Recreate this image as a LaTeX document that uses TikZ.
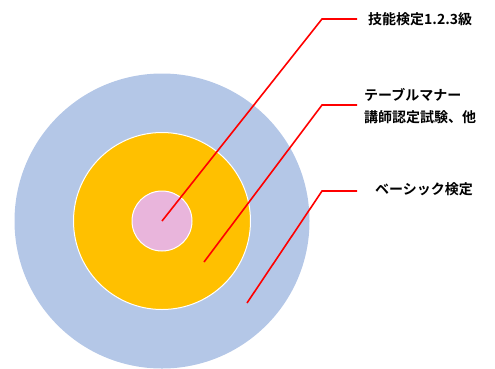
\documentclass[tikz,border=0pt]{standalone}
\usepackage{fontspec}
\newfontfamily\jp{Noto Sans CJK JP Bold}
\definecolor{outerc}{HTML}{B4C7E7}
\definecolor{midc}{HTML}{FFC000}
\definecolor{innerc}{HTML}{E9B5DC}
\definecolor{linec}{HTML}{FF0000}
\begin{document}
\begin{tikzpicture}[x=1pt,y=-1pt,
  ring/.style={circle,inner sep=0pt,draw=white,line width=1pt},
  leader/.style={draw=linec,line width=1.6pt},
  lbl/.style={anchor=west,inner sep=0pt,font=\jp\fontsize{14}{22}\selectfont,align=left}]
\useasboundingbox (0,0) rectangle (495,368);
\node[ring,fill=outerc,draw=none,minimum size=295pt] (outer) at (162,221) {};
\node[ring,fill=midc,minimum size=177pt] (mid) at (162,221) {};
\node[ring,fill=innerc,minimum size=60pt] (inner) at (162,221) {};
\coordinate (p1) at (162,221);
\coordinate (p2) at (204,262);
\coordinate (p3) at (247,303);
\coordinate (k1) at (322,19);
\coordinate (k2) at (322,105);
\coordinate (k3) at (322,191);
\coordinate (e1) at (357,19);
\coordinate (e2) at (357,105);
\coordinate (e3) at (357,191);
\node[lbl] (t1) at (368,19) {技能検定1.2.3級};
\node[lbl] (t2) at (364,106) {テーブルマナー\\講師認定試験、他};
\node[lbl] (t3) at (375,189) {ベーシック検定};
\draw[leader] (p1) -- (k1) -- (e1);
\draw[leader] (p2) -- (k2) -- (e2);
\draw[leader] (p3) -- (k3) -- (e3);
\end{tikzpicture}
\end{document}
